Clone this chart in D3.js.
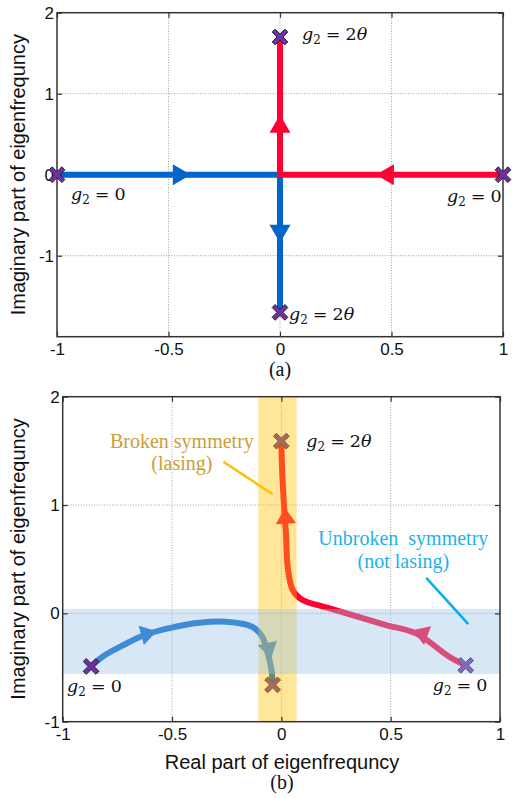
<!DOCTYPE html>
<html>
<head>
<meta charset="utf-8">
<script src="https://cdn.jsdelivr.net/npm/d3@7"></script>
<style>
  body { margin: 0; background: #fff; }
  svg { display: block; }
</style>
</head>
<body>
<svg id="chart" width="513" height="798"></svg>
<script>
// ---- tick values ----
const xTicks = [-1, -0.5, 0, 0.5, 1];
const yTicks = [-1, 0, 1, 2];

// ---- panel (a): eigenvalue trajectories of the ideal system ----
const aBlue = [[-1, 0], [0, 0], [0, -1.7]];
const aRed = [[1, 0], [0, 0], [0, 1.7]];
const aBlueArrows = [[-0.40, 0], [0, -0.84]];
const aRedArrows = [[0.43, 0], [0, 0.74]];
const aStart = [[-1, 0], [1, 0]];
const aEnd = [[0, 1.7], [0, -1.7]];

// ---- panel (b): trajectories with realistic parameters ----
const bBlue = [[-0.87, -0.49], [-0.818, -0.40], [-0.72, -0.29], [-0.626, -0.20], [-0.512, -0.136],
  [-0.375, -0.087], [-0.253, -0.078], [-0.133, -0.124], [-0.087, -0.217], [-0.064, -0.356],
  [-0.045, -0.525], [-0.04, -0.66]];
const bRed = [[0.843, -0.48], [0.768, -0.40], [0.616, -0.185], [0.479, -0.108], [0.325, -0.016],
  [0.204, 0.056], [0.097, 0.123], [0.052, 0.216], [0.029, 0.43], [0.021, 0.74], [0.012, 1.0],
  [0.004, 1.3], [0, 1.59]];
const bBlueArrows = [[-0.57, -0.165], [-0.047, -0.417]];
const bRedArrows = [[0.60, -0.155], [0.016, 0.975]];
const bStart = [[-0.87, -0.49], [0.843, -0.48]];
const bEnd = [[0, 1.59], [-0.04, -0.66]];
const brokenBand = [-0.105, 0.07];     // real-part range of the lasing region
const unbrokenBand = [-0.56, 0.04];    // imaginary-part range of the non-lasing region

const SANS = "'Liberation Sans', Arial, sans-serif";
const SERIF = "'Liberation Serif', 'Times New Roman', serif";
const MATH = "'DejaVu Serif', serif";

const svg = d3.select('#chart');

// X-shaped marker as a custom d3 symbol type
const xMark = {
  draw(ctx, size) {
    const a = Math.sqrt(size) / 2, w = a * 0.235, s = Math.SQRT1_2;
    const pts = [[w, -a], [w, -w], [a, -w], [a, w], [w, w], [w, a], [-w, a], [-w, w], [-a, w], [-a, -w], [-w, -w], [-w, -a]]
      .map(([px, py]) => [(px - py) * s, (px + py) * s]);
    ctx.moveTo(pts[0][0], pts[0][1]);
    for (let i = 1; i < pts.length; i++) ctx.lineTo(pts[i][0], pts[i][1]);
    ctx.closePath();
  }
};
const markPath = d3.symbol().type(xMark).size(324);

function makePanel(box, yDomain) {
  const x = d3.scaleLinear().domain([-1, 1]).range([box.l, box.r]);
  const y = d3.scaleLinear().domain(yDomain).range([box.b, box.t]);
  const g = svg.append('g');
  const grid = g.append('g').attr('stroke', '#a0a0a0').attr('stroke-width', 1).attr('stroke-dasharray', '1,1.6');
  grid.selectAll('line.gx').data(xTicks.filter(v => v > -1 && v < 1)).join('line')
    .attr('x1', d => x(d)).attr('x2', d => x(d)).attr('y1', box.t).attr('y2', box.b);
  grid.selectAll('line.gy').data(yTicks.filter(v => v > yDomain[0] && v < yDomain[1])).join('line')
    .attr('y1', d => y(d)).attr('y2', d => y(d)).attr('x1', box.l).attr('x2', box.r);
  const layer = g.append('g');
  return { x, y, g, layer, box };
}

function finishAxes(p) {
  const { x, y, g, box } = p;
  const fmt = d => String(d);
  const style = sel => {
    sel.select('.domain').remove();
    sel.selectAll('.tick line').attr('stroke', '#333').attr('stroke-width', 1.2);
    sel.selectAll('.tick text').attr('fill', '#111').attr('font-family', SANS).attr('font-size', 17);
  };
  g.append('g').attr('transform', `translate(0,${box.b})`)
    .call(d3.axisBottom(x).tickValues(xTicks).tickFormat(fmt).tickSize(-5).tickPadding(6)).call(style);
  g.append('g').attr('transform', `translate(0,${box.t})`)
    .call(d3.axisTop(x).tickValues(xTicks).tickFormat('').tickSize(-5)).call(style);
  g.append('g').attr('transform', `translate(${box.l},0)`)
    .call(d3.axisLeft(y).tickValues(yTicks).tickFormat(fmt).tickSize(-5).tickPadding(3)).call(style);
  g.append('g').attr('transform', `translate(${box.r},0)`)
    .call(d3.axisRight(y).tickValues(yTicks).tickFormat('').tickSize(-5)).call(style);
  g.append('rect').attr('x', box.l).attr('y', box.t).attr('width', box.r - box.l).attr('height', box.b - box.t)
    .attr('fill', 'none').attr('stroke', '#333').attr('stroke-width', 1.5);
}

// draws a trajectory and places triangular arrowheads along it
function trajectory(p, pts, tips, color, curve, width, arrowLen, arrowHalf) {
  const line = d3.line().x(d => p.x(d[0])).y(d => p.y(d[1])).curve(curve);
  const path = p.layer.append('path').attr('d', line(pts)).attr('fill', 'none')
    .attr('stroke', color).attr('stroke-width', width).attr('stroke-linejoin', 'miter');
  const node = path.node(), L = node.getTotalLength(), N = 600;
  const samples = d3.range(N + 1).map(i => node.getPointAtLength(L * i / N));
  tips.forEach(t => {
    const tx = p.x(t[0]), ty = p.y(t[1]);
    const i = d3.minIndex(samples, s => (s.x - tx) ** 2 + (s.y - ty) ** 2);
    const a = samples[Math.max(i - 4, 0)], b = samples[Math.min(i + 4, N)];
    let dx = b.x - a.x, dy = b.y - a.y; const n = Math.hypot(dx, dy); dx /= n; dy /= n;
    const bx = tx - dx * arrowLen, by = ty - dy * arrowLen;
    p.layer.append('path')
      .attr('d', `M${tx},${ty}L${bx - dy * arrowHalf},${by + dx * arrowHalf}L${bx + dy * arrowHalf},${by - dx * arrowHalf}Z`)
      .attr('fill', color);
  });
}

function markers(target, p, pts, fill) {
  target.selectAll(null).data(pts).join('path')
    .attr('d', markPath)
    .attr('transform', d => `translate(${p.x(d[0])},${p.y(d[1])})`)
    .attr('fill', fill).attr('stroke', '#2a1d33').attr('stroke-width', 1);
}

// "g2 = ..." label with italic g and θ
function mathLabel(target, px, py, rhs) {
  const t = target.append('text').attr('x', px).attr('y', py)
    .attr('font-family', MATH).attr('font-size', 17.5).attr('fill', '#111');
  t.append('tspan').attr('font-style', 'italic').text('g');
  t.append('tspan').attr('font-size', 12).attr('dy', 4).text('2');
  t.append('tspan').attr('dy', -4).attr('dx', 5).text('=');
  rhs.forEach((r, i) => {
    const s = t.append('tspan').text(r.t);
    if (i === 0) s.attr('dx', 5);
    if (r.it) s.attr('font-style', 'italic');
  });
}
const ZERO = [{ t: '0' }];
const TWO_THETA = [{ t: '2' }, { t: 'θ', it: true }];

function yTitle(cx, cy) {
  svg.append('text').attr('transform', `translate(${cx},${cy}) rotate(-90)`)
    .attr('text-anchor', 'middle').attr('font-family', SANS).attr('font-size', 20).attr('fill', '#111')
    .text('Imaginary part of eigenfrequncy');
}

// ================= panel (a) =================
const A = makePanel({ l: 57, r: 503, t: 12.7, b: 336.7 }, [-2, 2]);
trajectory(A, aBlue, aBlueArrows, '#0066cc', d3.curveLinear, 6, 18, 10.5);
trajectory(A, aRed, aRedArrows, '#ff0033', d3.curveLinear, 6, 18, 10.5);
finishAxes(A);
markers(A.g, A, aStart.concat(aEnd), '#7030a0');
{
  const { x, y } = A;
  mathLabel(svg, x(-1) + 14, y(0) + 25, ZERO);
  mathLabel(svg, x(1) - 56, y(0) + 27, ZERO);
  mathLabel(svg, x(0) + 22, y(1.7) + 3, TWO_THETA);
  mathLabel(svg, x(0) + 9, y(-1.7) + 8, TWO_THETA);
}
yTitle(25, 174.7);
svg.append('text').attr('x', 280).attr('y', 376).attr('text-anchor', 'middle')
  .attr('font-family', SERIF).attr('font-size', 20).attr('fill', '#111').text('(a)');

// ================= panel (b) =================
const B = makePanel({ l: 62.7, r: 500, t: 396.7, b: 721.7 }, [-1, 2]);
trajectory(B, bBlue, bBlueArrows, '#0066cc', d3.curveCatmullRom.alpha(0.5), 6, 16, 10);
trajectory(B, bRed, bRedArrows, '#ff0033', d3.curveCatmullRom.alpha(0.5), 6, 16, 10);
markers(B.layer, B, [bStart[1]].concat(bEnd), '#7030a0');
{
  const { x, y, box } = B;
  // translucent region shading laid over the trajectories
  B.layer.append('rect').attr('x', x(brokenBand[0])).attr('width', x(brokenBand[1]) - x(brokenBand[0]))
    .attr('y', box.t).attr('height', box.b - box.t).attr('fill', 'rgb(255,192,0)').attr('fill-opacity', 0.4);
  B.layer.append('rect').attr('x', box.l).attr('width', box.r - box.l)
    .attr('y', y(unbrokenBand[1])).attr('height', y(unbrokenBand[0]) - y(unbrokenBand[1]))
    .attr('fill', 'rgb(155,194,230)').attr('fill-opacity', 0.4);
  markers(B.layer, B, [bStart[0]], '#7030a0');

  // annotations
  const gold = '#c9a033', cyan = '#1db1ee';
  svg.append('line').attr('x1', x(-0.265)).attr('y1', y(1.40)).attr('x2', x(-0.04)).attr('y2', y(1.10))
    .attr('stroke', '#ffc000').attr('stroke-width', 2.5);
  svg.append('line').attr('x1', x(0.663)).attr('y1', y(0.327)).attr('x2', x(0.855)).attr('y2', y(-0.10))
    .attr('stroke', '#00b0f0').attr('stroke-width', 2.5);
  const ann = (cx, cy, txt, col) => svg.append('text').attr('x', cx).attr('y', cy).attr('text-anchor', 'middle')
    .attr('font-family', SERIF).attr('font-size', 20).attr('fill', col).attr('xml:space', 'preserve').text(txt);
  ann(x(-0.455), y(1.53), 'Broken symmetry', gold);
  ann(x(-0.455), y(1.325), '(lasing)', gold);
  ann(x(0.558), y(0.632), 'Unbroken  symmetry', cyan);
  ann(x(0.558), y(0.42), '(not lasing)', cyan);

  mathLabel(svg, x(0) + 25, y(1.59) + 6, TWO_THETA);
  mathLabel(svg, x(-0.87) - 24, y(-0.49) + 26, ZERO);
  mathLabel(svg, x(0.843) - 33, y(-0.48) + 26, ZERO);
}
finishAxes(B);
yTitle(25, 559);
svg.append('text').attr('x', 282).attr('y', 769).attr('text-anchor', 'middle')
  .attr('font-family', SANS).attr('font-size', 20).attr('fill', '#111').text('Real part of eigenfrequncy');
svg.append('text').attr('x', 282).attr('y', 789).attr('text-anchor', 'middle')
  .attr('font-family', SERIF).attr('font-size', 20).attr('fill', '#111').text('(b)');
</script>
</body>
</html>
